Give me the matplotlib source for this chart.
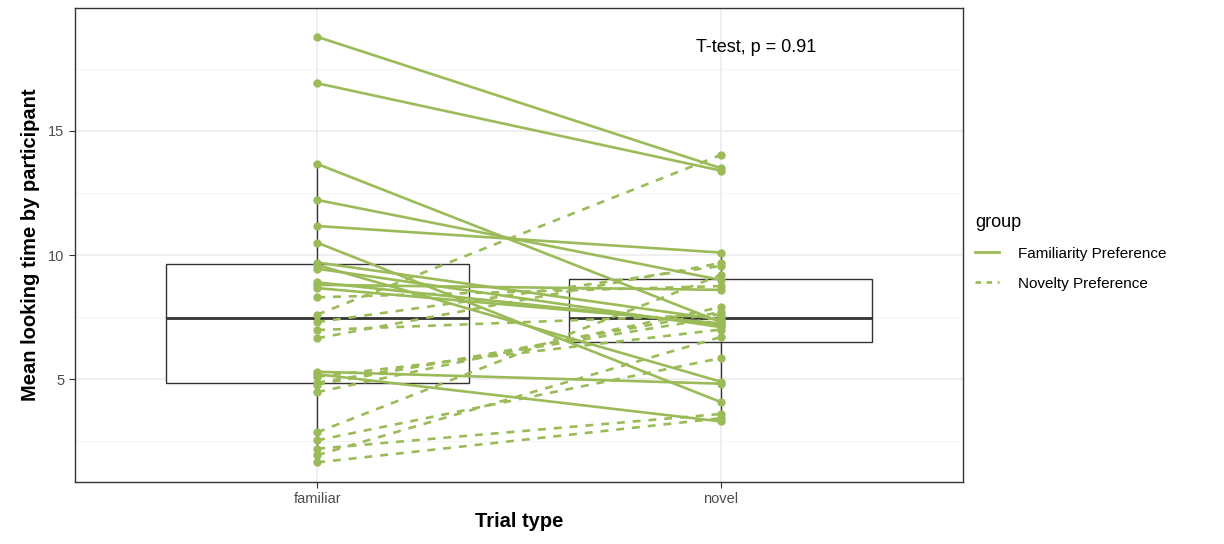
import matplotlib.pyplot as plt
from matplotlib.lines import Line2D

plt.rcParams['font.family'] = ['Liberation Sans', 'DejaVu Sans']

# mean looking time per participant (paired by index)
familiar = [18.79, 16.92, 13.67, 12.22, 11.17, 10.5, 9.7, 9.6, 9.45, 8.9,
            8.8, 8.67, 8.3, 7.6, 7.3, 6.98, 6.65, 5.3, 5.2, 5.1,
            4.86, 4.78, 4.48, 2.86, 2.54, 2.2, 1.94, 1.65]
novel = [13.5, 13.4, 7.3, 9.0, 10.1, 4.08, 7.4, 4.9, 7.1, 7.2,
         8.6, 7.25, 8.75, 14.03, 9.56, 7.6, 9.68, 4.82, 3.3, 7.0,
         7.5, 7.7, 7.9, 9.2, 5.85, 3.6, 6.7, 3.43]
trial_types = ["familiar", "novel"]
groups = ["Familiarity Preference", "Novelty Preference"]
y_ticks = [5, 10, 15]

green = "#9BBB59"
dark = "#333333"

fig = plt.figure(figsize=(12.24, 5.44), dpi=100)
ax = fig.add_axes([75/1224, 62/544, 888/1224, 474/544])

ax.boxplot(
    [familiar, novel],
    positions=[1, 2],
    widths=0.75,
    showfliers=False,
    showcaps=False,
    whis=1.5,
    patch_artist=True,
    boxprops=dict(facecolor="white", edgecolor=dark, linewidth=1),
    medianprops=dict(color=dark, linewidth=2),
    whiskerprops=dict(color=dark, linewidth=1),
    zorder=2
)

for f, n in zip(familiar, novel):
    style = "-" if f > n else (0, (3, 3))
    ax.plot(
        [1, 2], [f, n],
        color=green, linestyle=style, linewidth=1.9,
        marker="o", markersize=5, zorder=3
    )

ax.text(2.087, 18.35, "T-test, p = 0.91", fontsize=13, ha="center", va="center")

ax.set_xlim(0.4, 2.6)
ax.set_ylim(0.86, 19.95)
ax.set_xticks([1, 2])
ax.set_xticklabels(trial_types)
ax.set_yticks(y_ticks)
ax.set_yticks([2.5, 7.5, 12.5, 17.5], minor=True)

ax.set_axisbelow(True)
ax.grid(which="major", color="#EBEBEB", linewidth=1.1)
ax.grid(which="minor", axis="y", color="#F2F2F2", linewidth=0.6)

ax.tick_params(which="major", length=4, color=dark, labelcolor="#4D4D4D", labelsize=10.5)
ax.tick_params(which="minor", length=0)
for s in ax.spines.values():
    s.set_color(dark)
    s.set_linewidth(1)

ax.set_xlabel("Trial type", fontsize=14.5, fontweight="bold", labelpad=4)
ax.set_ylabel("Mean looking time by participant", fontsize=14.5, fontweight="bold", labelpad=6)

handles = [
    Line2D([], [], color=green, linestyle="-", linewidth=2),
    Line2D([], [], color=green, linestyle=(0, (2, 2)), linewidth=2),
]
leg = fig.legend(
    handles, groups,
    title="group",
    loc="upper left",
    bbox_to_anchor=(961/1224, 1 - 200/544),
    frameon=False,
    fontsize=11,
    title_fontsize=13,
    handlelength=1.6,
    handletextpad=1.2,
    labelspacing=1.05
)
leg._legend_box.align = "left"

fig.savefig("out.png", dpi=100)
